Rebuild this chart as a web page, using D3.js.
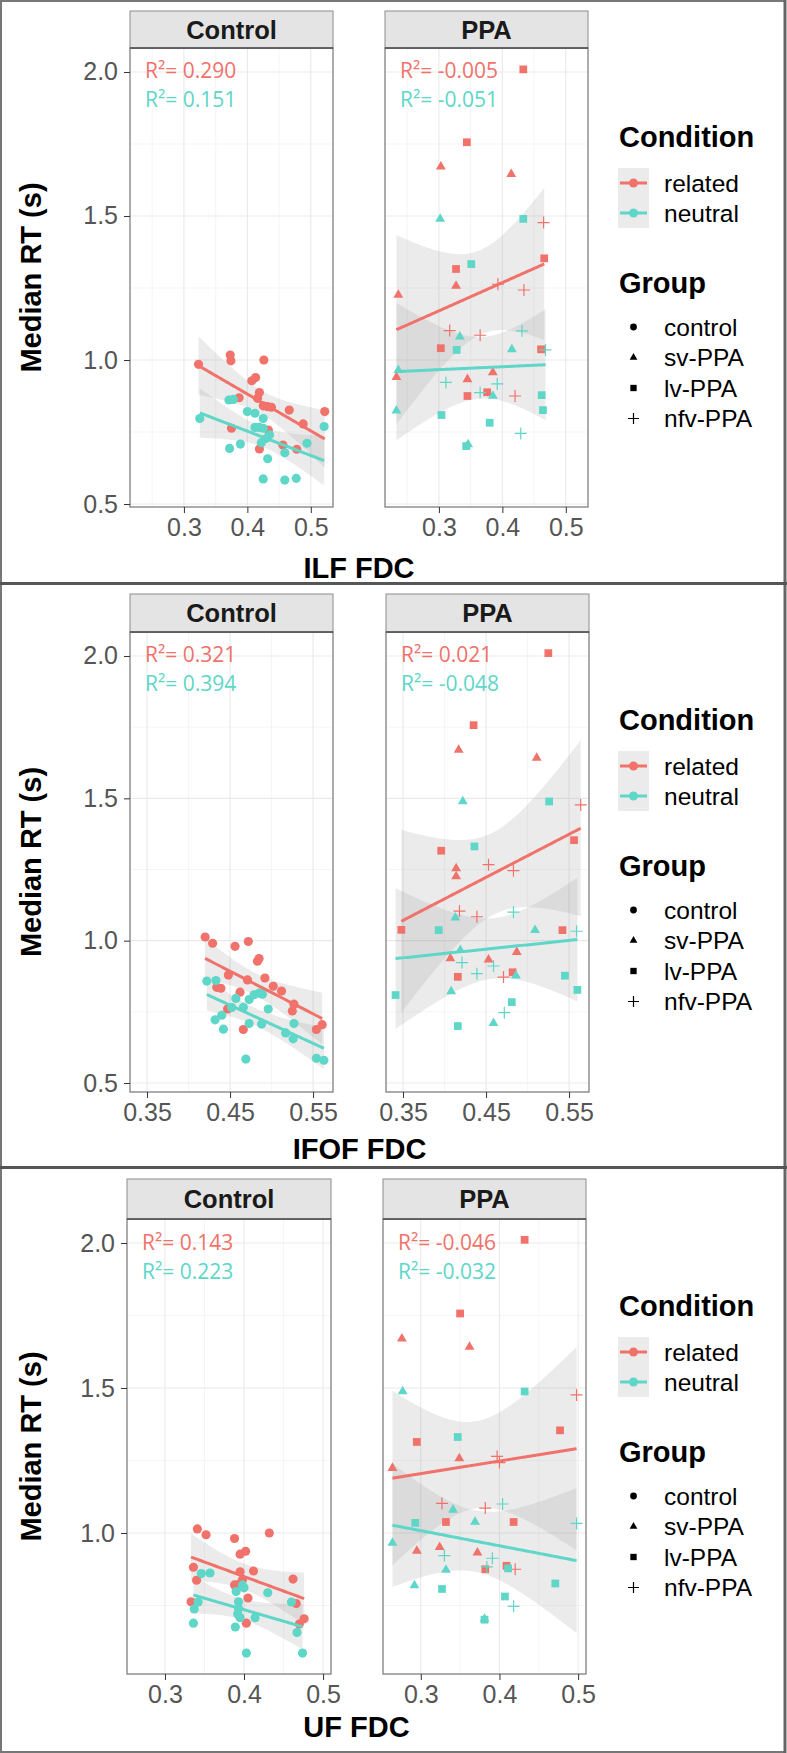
<!DOCTYPE html>
<html><head><meta charset="utf-8">
<script src="https://cdn.jsdelivr.net/npm/d3@7"></script>
<style>html,body{margin:0;padding:0;background:#fff;}svg{display:block;}</style>
</head><body>
<svg id="chart" width="787" height="1753"></svg>
<script>
// ---------------- DATA ----------------
const facets = ["Control", "PPA"];
const conditions = ["related", "neutral"];
const groupLabels = ["control", "sv-PPA", "lv-PPA", "nfv-PPA"];
const groupKeys = ["control", "sv", "lv", "nfv"];
const yTicks = [0.5, 1.0, 1.5, 2.0];
const yMinor = [0.75, 1.25, 1.75];
const xTicksILF = [0.3, 0.4, 0.5], xMinorILF = [0.25, 0.35, 0.45];
const xTicksIFOF = [0.35, 0.45, 0.55], xMinorIFOF = [0.4, 0.5];
const xTicksUF = [0.3, 0.4, 0.5], xMinorUF = [0.35, 0.45];
const tractTitles = ["ILF FDC", "IFOF FDC", "UF FDC"];
const r2ControlRelated = [0.290, 0.321, 0.143];
const r2ControlNeutral = [0.151, 0.394, 0.223];
const r2PPARelated = [-0.005, 0.021, -0.046];
const r2PPANeutral = [-0.051, -0.048, -0.032];

// ILF
const ilfControlRelated = [[0.323,0.985],[0.373,1.017],[0.374,0.997],[0.426,1.000],[0.407,0.928],[0.413,0.939],[0.387,0.869],[0.419,0.887],[0.416,0.867],[0.425,0.841],[0.432,0.838],[0.438,0.836],[0.466,0.826],[0.522,0.821],[0.488,0.778],[0.375,0.763],[0.433,0.757],[0.419,0.691],[0.456,0.705],[0.478,0.690]];
const ilfControlNeutral = [[0.325,0.797],[0.371,0.861],[0.378,0.863],[0.400,0.821],[0.412,0.815],[0.425,0.797],[0.412,0.766],[0.419,0.766],[0.425,0.763],[0.435,0.740],[0.430,0.728],[0.422,0.713],[0.372,0.693],[0.389,0.708],[0.459,0.678],[0.432,0.657],[0.494,0.711],[0.521,0.769],[0.425,0.587],[0.459,0.583],[0.477,0.589]];
const ilfPPARelated = [[0.433,2.009,"lv"],[0.344,1.756,"lv"],[0.327,1.316,"lv"],[0.466,1.353,"lv"],[0.303,1.041,"lv"],[0.461,1.037,"lv"],[0.345,0.875,"lv"],[0.376,0.888,"lv"],
 [0.303,1.671,"sv"],[0.414,1.645,"sv"],[0.327,1.257,"sv"],[0.236,1.226,"sv"],[0.233,0.940,"sv"],[0.345,0.933,"sv"],[0.385,0.957,"sv"],
 [0.465,1.477,"nfv"],[0.393,1.263,"nfv"],[0.434,1.243,"nfv"],[0.317,1.102,"nfv"],[0.365,1.086,"nfv"],[0.420,0.875,"nfv"]];
const ilfPPANeutral = [[0.433,1.490,"lv"],[0.351,1.333,"lv"],[0.328,1.035,"lv"],[0.462,0.878,"lv"],[0.464,0.826,"lv"],[0.304,0.809,"lv"],[0.380,0.782,"lv"],[0.343,0.701,"lv"],
 [0.302,1.490,"sv"],[0.333,1.081,"sv"],[0.415,1.037,"sv"],[0.236,0.965,"sv"],[0.233,0.824,"sv"],[0.385,0.875,"sv"],[0.346,0.707,"sv"],
 [0.431,1.101,"nfv"],[0.468,1.035,"nfv"],[0.311,0.922,"nfv"],[0.392,0.917,"nfv"],[0.365,0.887,"nfv"],[0.429,0.745,"nfv"]];

// IFOF
const ifofControlRelated = [[0.420,1.013],[0.429,0.991],[0.456,0.980],[0.472,0.997],[0.483,0.928],[0.485,0.937],[0.448,0.879],[0.471,0.862],[0.492,0.869],[0.434,0.836],[0.439,0.833],[0.462,0.819],[0.502,0.840],[0.512,0.823],[0.527,0.777],[0.525,0.753],[0.447,0.760],[0.466,0.688],[0.554,0.688],[0.561,0.705]];
const ifofControlNeutral = [[0.422,0.858],[0.433,0.860],[0.457,0.797],[0.473,0.793],[0.466,0.766],[0.485,0.816],[0.489,0.812],[0.496,0.760],[0.432,0.722],[0.440,0.738],[0.442,0.689],[0.473,0.709],[0.488,0.707],[0.517,0.676],[0.527,0.709],[0.526,0.655],[0.469,0.584],[0.554,0.587],[0.563,0.580],[0.479,0.810],[0.452,0.765]];
const ifofPPARelated = [[0.525,2.010,"lv"],[0.435,1.757,"lv"],[0.396,1.316,"lv"],[0.556,1.353,"lv"],[0.348,1.038,"lv"],[0.542,1.037,"lv"],[0.416,0.873,"lv"],[0.482,0.889,"lv"],
 [0.417,1.670,"sv"],[0.511,1.642,"sv"],[0.414,1.254,"sv"],[0.414,1.226,"sv"],[0.407,0.938,"sv"],[0.453,0.933,"sv"],[0.487,0.960,"sv"],
 [0.564,1.477,"nfv"],[0.453,1.267,"nfv"],[0.483,1.246,"nfv"],[0.418,1.104,"nfv"],[0.439,1.084,"nfv"],[0.471,0.872,"nfv"]];
const ifofPPANeutral = [[0.526,1.489,"lv"],[0.436,1.331,"lv"],[0.393,1.037,"lv"],[0.545,0.877,"lv"],[0.560,0.827,"lv"],[0.341,0.809,"lv"],[0.481,0.784,"lv"],[0.416,0.700,"lv"],
 [0.422,1.489,"sv"],[0.413,1.081,"sv"],[0.509,1.037,"sv"],[0.419,0.967,"sv"],[0.408,0.822,"sv"],[0.486,0.877,"sv"],[0.459,0.710,"sv"],
 [0.483,1.100,"nfv"],[0.559,1.033,"nfv"],[0.421,0.923,"nfv"],[0.459,0.911,"nfv"],[0.439,0.884,"nfv"],[0.472,0.747,"nfv"]];

// UF
const ufControlRelated = [[0.341,1.014],[0.352,0.994],[0.388,0.981],[0.432,1.000],[0.395,0.927],[0.402,0.937],[0.336,0.882],[0.340,0.837],[0.395,0.866],[0.412,0.869],[0.388,0.821],[0.395,0.826],[0.398,0.839],[0.462,0.841],[0.405,0.776],[0.333,0.763],[0.466,0.757],[0.403,0.689],[0.470,0.686],[0.476,0.704]];
const ufControlNeutral = [[0.346,0.860],[0.357,0.862],[0.337,0.738],[0.342,0.762],[0.336,0.689],[0.390,0.798],[0.400,0.811],[0.393,0.763],[0.430,0.794],[0.392,0.721],[0.395,0.708],[0.389,0.676],[0.414,0.708],[0.460,0.762],[0.467,0.657],[0.403,0.586],[0.474,0.586],[0.393,0.740],[0.398,0.820]];
const ufPPARelated = [[0.432,2.011,"lv"],[0.350,1.757,"lv"],[0.295,1.314,"lv"],[0.477,1.354,"lv"],[0.332,1.038,"lv"],[0.418,1.038,"lv"],[0.382,0.875,"lv"],[0.409,0.887,"lv"],
 [0.276,1.670,"sv"],[0.362,1.642,"sv"],[0.349,1.257,"sv"],[0.264,1.224,"sv"],[0.295,0.938,"sv"],[0.372,0.932,"sv"],[0.324,0.951,"sv"],
 [0.498,1.476,"nfv"],[0.397,1.264,"nfv"],[0.400,1.243,"nfv"],[0.327,1.102,"nfv"],[0.382,1.086,"nfv"],[0.420,0.875,"nfv"]];
const ufPPANeutral = [[0.432,1.488,"lv"],[0.347,1.331,"lv"],[0.293,1.035,"lv"],[0.411,0.878,"lv"],[0.471,0.826,"lv"],[0.327,0.807,"lv"],[0.407,0.781,"lv"],[0.381,0.701,"lv"],
 [0.277,1.488,"sv"],[0.341,1.080,"sv"],[0.369,1.038,"sv"],[0.264,0.966,"sv"],[0.292,0.819,"sv"],[0.332,0.873,"sv"],[0.381,0.704,"sv"],
 [0.404,1.100,"nfv"],[0.498,1.033,"nfv"],[0.330,0.922,"nfv"],[0.391,0.913,"nfv"],[0.384,0.883,"nfv"],[0.418,0.747,"nfv"]];

// ---------------- LAYOUT ----------------
const colors = {related: "#F0726A", neutral: "#5ED6C8"};
const FONT = "'Liberation Sans', Arial, Helvetica, sans-serif";
const RFONT = "'Open Sans', 'Noto Sans', sans-serif";

const tracts = [
  {title: tractTitles[0], xTicks: xTicksILF, xMinor: xMinorILF, xDomain: [0.215, 0.535], yDomain: [0.4896, 2.0833],
   plotTop: 48, plotBottom: 507, stripTop: 11, xCtrl: [130, 333], xPPA: [385, 588], legendDy: 0, titleY: 578,
   data: {Control: {related: ilfControlRelated, neutral: ilfControlNeutral}, PPA: {related: ilfPPARelated, neutral: ilfPPANeutral}}},
  {title: tractTitles[1], xTicks: xTicksIFOF, xMinor: xMinorIFOF, xDomain: [0.3295, 0.574], yDomain: [0.4684, 2.0843],
   plotTop: 632, plotBottom: 1092, stripTop: 594, xCtrl: [130, 333], xPPA: [386, 589], legendDy: 583, titleY: 1159,
   data: {Control: {related: ifofControlRelated, neutral: ifofControlNeutral}, PPA: {related: ifofPPARelated, neutral: ifofPPANeutral}}},
  {title: tractTitles[2], xTicks: xTicksUF, xMinor: xMinorUF, xDomain: [0.252, 0.51], yDomain: [0.5138, 2.0828],
   plotTop: 1219, plotBottom: 1674, stripTop: 1179, xCtrl: [127, 331], xPPA: [383, 586], legendDy: 1169, titleY: 1737,
   data: {Control: {related: ufControlRelated, neutral: ufControlNeutral}, PPA: {related: ufPPARelated, neutral: ufPPANeutral}}}
];
const r2 = {Control: {related: r2ControlRelated, neutral: r2ControlNeutral}, PPA: {related: r2PPARelated, neutral: r2PPANeutral}};

// ---------------- HELPERS ----------------
function tq(df) { // 97.5% t quantile (Cornish-Fisher)
  const z = 1.959964, z3 = z*z*z, z5 = z3*z*z, z7 = z5*z*z;
  return z + (z3+z)/(4*df) + (5*z5+16*z3+3*z)/(96*df*df) + (3*z7+19*z5+17*z3-15*z)/(384*df*df*df);
}
function lmFit(pts) {
  const n = pts.length, mx = d3.mean(pts, d => d[0]), my = d3.mean(pts, d => d[1]);
  let sxx = 0, sxy = 0;
  pts.forEach(d => { sxx += (d[0]-mx)**2; sxy += (d[0]-mx)*(d[1]-my); });
  const b = sxy/sxx, a = my - b*mx;
  let sse = 0; pts.forEach(d => { sse += (d[1]-a-b*d[0])**2; });
  const s = Math.sqrt(sse/(n-2)), t = tq(n-2);
  const [x0, x1] = d3.extent(pts, d => d[0]);
  return d3.range(80).map(i => {
    const x = x0 + (x1-x0)*i/79, yh = a + b*x;
    const se = s*Math.sqrt(1/n + (x-mx)**2/sxx);
    return {x, y: yh, lo: yh - t*se, hi: yh + t*se};
  });
}
const shapePath = {
  control: d3.symbol().type(d3.symbolCircle).size(66)(),
  sv: d3.symbol().type(d3.symbolTriangle).size(42)(),
  lv: d3.symbol().type(d3.symbolSquare).size(60)(),
  nfv: "M-6,0H6M0,-6V6"
};
const legendShape = {
  control: d3.symbol().type(d3.symbolCircle).size(36)(),
  sv: d3.symbol().type(d3.symbolTriangle).size(26)(),
  lv: d3.symbol().type(d3.symbolSquare).size(40)(),
  nfv: "M-5.5,0H5.5M0,-5.5V5.5"
};
function drawShape(sel, key, color, paths) {
  if (key === "nfv") sel.attr("d", paths[key]).attr("fill", "none").attr("stroke", color).attr("stroke-width", 1.2);
  else sel.attr("d", paths[key]).attr("fill", color).attr("stroke", "none");
}

// ---------------- DRAW ----------------
const svg = d3.select("#chart");
svg.append("rect").attr("width", 787).attr("height", 1753).attr("fill", "#fff");
const defs = svg.append("defs");

tracts.forEach((T, ti) => {
  const y = d3.scaleLinear().domain(T.yDomain).range([T.plotBottom, T.plotTop]);
  const inY = v => v >= T.yDomain[0] && v <= T.yDomain[1];
  const inX = v => v >= T.xDomain[0] && v <= T.xDomain[1];

  facets.forEach((facet, fi) => {
    const xr = fi === 0 ? T.xCtrl : T.xPPA;
    const x = d3.scaleLinear().domain(T.xDomain).range(xr);
    const g = svg.append("g");
    const clipId = `clip-${ti}-${fi}`;
    defs.append("clipPath").attr("id", clipId).append("rect")
      .attr("x", xr[0]).attr("y", T.plotTop).attr("width", xr[1]-xr[0]).attr("height", T.plotBottom-T.plotTop);

    // grid
    g.selectAll(".gxm").data(T.xMinor.filter(inX)).join("line")
      .attr("x1", d => x(d)).attr("x2", d => x(d)).attr("y1", T.plotTop).attr("y2", T.plotBottom)
      .attr("stroke", "#f3f3f3").attr("stroke-width", 0.8);
    g.selectAll(".gym").data(yMinor.filter(inY)).join("line")
      .attr("y1", d => y(d)).attr("y2", d => y(d)).attr("x1", xr[0]).attr("x2", xr[1])
      .attr("stroke", "#f3f3f3").attr("stroke-width", 0.8);
    g.selectAll(".gx").data(T.xTicks.filter(inX)).join("line")
      .attr("x1", d => x(d)).attr("x2", d => x(d)).attr("y1", T.plotTop).attr("y2", T.plotBottom)
      .attr("stroke", "#e9e9e9").attr("stroke-width", 1.1);
    g.selectAll(".gy").data(yTicks.filter(inY)).join("line")
      .attr("y1", d => y(d)).attr("y2", d => y(d)).attr("x1", xr[0]).attr("x2", xr[1])
      .attr("stroke", "#e9e9e9").attr("stroke-width", 1.1);

    const fits = {};
    conditions.forEach(c => { fits[c] = lmFit(T.data[facet][c]); });

    const cg = g.append("g").attr("clip-path", `url(#${clipId})`);
    conditions.forEach(c => {
      cg.append("path").datum(fits[c])
        .attr("d", d3.area().x(d => x(d.x)).y0(d => y(d.lo)).y1(d => y(d.hi)))
        .attr("fill", "#999").attr("fill-opacity", 0.2);
    });
    conditions.forEach(c => {
      cg.selectAll(null).data(T.data[facet][c]).join("path")
        .attr("transform", d => `translate(${x(d[0])},${y(d[1])})`)
        .each(function(d) { drawShape(d3.select(this), d[2] || "control", colors[c], shapePath); });
    });
    conditions.forEach(c => {
      cg.append("path").datum(fits[c])
        .attr("d", d3.line().x(d => x(d.x)).y(d => y(d.y)))
        .attr("fill", "none").attr("stroke", colors[c]).attr("stroke-width", 3);
    });

    g.append("rect").attr("x", xr[0]).attr("y", T.plotTop).attr("width", xr[1]-xr[0]).attr("height", T.plotBottom-T.plotTop)
      .attr("fill", "none").attr("stroke", "#808080").attr("stroke-width", 1.3);

    conditions.forEach((c, ci) => {
      g.append("text").attr("x", xr[0] + 15).attr("y", y(2.0 - 0.1*ci) + 6.5)
        .attr("font-family", RFONT).attr("font-size", 21).attr("fill", colors[c])
        .text(`R²= ${r2[facet][c][ti].toFixed(3)}`);
    });

    g.append("rect").attr("x", xr[0]).attr("y", T.stripTop).attr("width", xr[1]-xr[0]).attr("height", T.plotTop - T.stripTop)
      .attr("fill", "#e4e4e4").attr("stroke", "#8c8c8c").attr("stroke-width", 1);
    g.append("line").attr("x1", xr[0]).attr("x2", xr[1]).attr("y1", T.plotTop).attr("y2", T.plotTop)
      .attr("stroke", "#4a4a4a").attr("stroke-width", 1.6);
    g.append("text").attr("x", (xr[0]+xr[1])/2).attr("y", (T.stripTop + T.plotTop)/2 + 9)
      .attr("text-anchor", "middle").attr("font-family", FONT).attr("font-weight", "bold")
      .attr("font-size", 25.5).attr("fill", "#1a1a1a").text(facet);

    const ax = g.append("g").attr("transform", `translate(0,${T.plotBottom})`)
      .call(d3.axisBottom(x).tickValues(T.xTicks.filter(inX)).tickFormat(d => String(d)).tickSize(6).tickPadding(5));
    ax.select(".domain").remove();
    ax.selectAll("line").attr("stroke", "#333");
    ax.selectAll("text").attr("font-family", FONT).attr("font-size", 25).attr("fill", "#555");

    if (fi === 0) {
      const ay = g.append("g").attr("transform", `translate(${xr[0]},0)`)
        .call(d3.axisLeft(y).tickValues(yTicks.filter(inY)).tickFormat(d3.format(".1f")).tickSize(6).tickPadding(6));
      ay.select(".domain").remove();
      ay.selectAll("line").attr("stroke", "#333");
      ay.selectAll("text").attr("font-family", FONT).attr("font-size", 25).attr("fill", "#555");
    }
  });

  svg.append("text").attr("x", (T.xCtrl[0] + T.xPPA[1])/2).attr("y", T.titleY)
    .attr("text-anchor", "middle").attr("font-family", FONT).attr("font-weight", "bold").attr("font-size", 29)
    .attr("fill", "#000").text(T.title);
  svg.append("text").attr("transform", `translate(41,${(T.plotTop + T.plotBottom)/2}) rotate(-90)`)
    .attr("text-anchor", "middle").attr("font-family", FONT).attr("font-weight", "bold").attr("font-size", 29)
    .attr("fill", "#000").text("Median RT (s)");

  const L = svg.append("g").attr("transform", `translate(0,${T.legendDy})`);
  L.append("text").attr("x", 619).attr("y", 147).attr("font-family", FONT).attr("font-weight", "bold")
    .attr("font-size", 29).attr("fill", "#000").text("Condition");
  L.append("rect").attr("x", 618).attr("y", 168).attr("width", 31).attr("height", 60).attr("fill", "#999").attr("fill-opacity", 0.2);
  conditions.forEach((c, i) => {
    const cy = 183 + 30*i;
    L.append("line").attr("x1", 620).attr("x2", 647).attr("y1", cy).attr("y2", cy)
      .attr("stroke", colors[c]).attr("stroke-width", 3);
    L.append("circle").attr("cx", 633.5).attr("cy", cy).attr("r", 4.5).attr("fill", colors[c]);
    L.append("text").attr("x", 664).attr("y", cy + 9).attr("font-family", FONT).attr("font-size", 24.5)
      .attr("fill", "#000").text(c);
  });
  L.append("text").attr("x", 619).attr("y", 293).attr("font-family", FONT).attr("font-weight", "bold")
    .attr("font-size", 29).attr("fill", "#000").text("Group");
  groupKeys.forEach((k, i) => {
    const cy = 327 + 30.5*i;
    L.append("path").attr("transform", `translate(633.5,${cy})`)
      .call(s => drawShape(s, k, "#000", legendShape));
    L.append("text").attr("x", 664).attr("y", cy + 8.5).attr("font-family", FONT).attr("font-size", 24.5)
      .attr("fill", "#000").text(groupLabels[i]);
  });
});

svg.append("rect").attr("x", 1).attr("y", 1).attr("width", 784).attr("height", 1751)
  .attr("fill", "none").attr("stroke", "#777").attr("stroke-width", 2);
svg.append("line").attr("x1", 785).attr("x2", 785).attr("y1", 0).attr("y2", 1753).attr("stroke", "#666").attr("stroke-width", 3);
[583.5, 1167.5].forEach(yy => {
  svg.append("line").attr("x1", 0).attr("x2", 787).attr("y1", yy).attr("y2", yy).attr("stroke", "#555").attr("stroke-width", 3);
});
</script>
</body></html>
